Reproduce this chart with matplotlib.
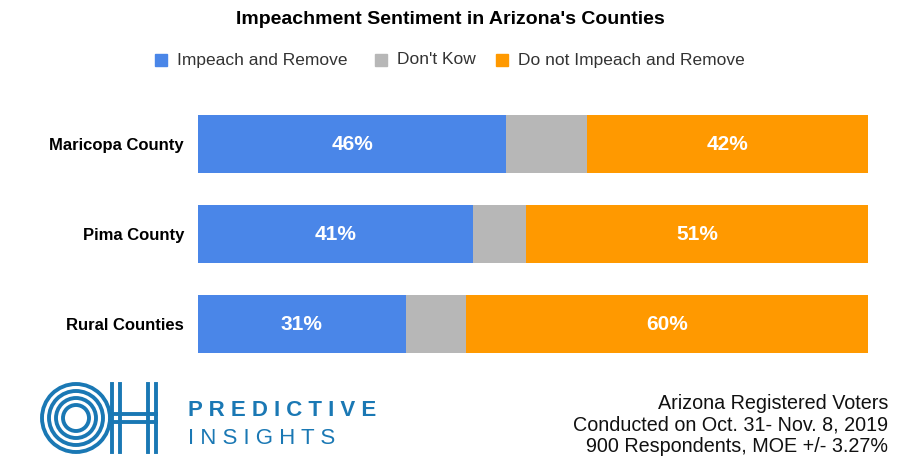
import matplotlib
matplotlib.use("Agg")
import matplotlib.pyplot as plt
from matplotlib.patches import Circle, Rectangle

plt.rcParams["font.family"] = ["Liberation Sans", "DejaVu Sans"]

counties = ["Maricopa County", "Pima County", "Rural Counties"]
impeach = [46, 41, 31]
dont_know = [12, 8, 9]
not_impeach = [42, 51, 60]

BLUE, GRAY, ORANGE = "#4a86e8", "#b7b7b7", "#ff9900"
LOGO = "#1a78b4"

fig = plt.figure(figsize=(9, 4.74), dpi=100)
ax = fig.add_axes([198 / 900, 1 - 369 / 474, 670 / 900, 270 / 474])

y = range(len(counties))
h = 58 / 90
ax.barh(y, impeach, height=h, color=BLUE)
ax.barh(y, dont_know, left=impeach, height=h, color=GRAY)
left2 = [a + b for a, b in zip(impeach, dont_know)]
ax.barh(y, not_impeach, left=left2, height=h, color=ORANGE)

for i in y:
    ax.text(impeach[i] / 2, i, f"{impeach[i]}%", ha="center", va="center",
            color="white", fontsize=15, fontweight="bold")
    ax.text(left2[i] + not_impeach[i] / 2, i, f"{not_impeach[i]}%", ha="center",
            va="center", color="white", fontsize=15, fontweight="bold")

ax.set_xlim(0, 100)
ax.set_ylim(2.5, -0.5)
ax.set_yticks(list(y))
ax.set_yticklabels(counties, fontsize=12, fontweight="bold")
ax.tick_params(length=0, pad=10)
ax.set_xticks([])
for s in ax.spines.values():
    s.set_visible(False)

fig.text(0.5, 1 - 20 / 474, "Impeachment Sentiment in Arizona's Counties",
         ha="center", va="center", fontsize=14, fontweight="bold")

# legend
items = [("Impeach and Remove", BLUE, 155), ("Don't Kow", GRAY, 375),
         ("Do not Impeach and Remove", ORANGE, 496)]
for lab, c, x in items:
    fig.patches.append(Rectangle((x / 900, 1 - 66 / 474), 12 / 900, 12 / 474,
                                 color=c, transform=fig.transFigure))
    fig.text((x + 22) / 900, 1 - 60 / 474, lab, va="center", fontsize=12.5,
             color="#333333")

# logo
lax = fig.add_axes([40 / 900, 1 - 454 / 474, 122 / 900, 72 / 474])
lax.set_xlim(0, 122)
lax.set_ylim(0, 72)
lax.set_aspect("equal")
lax.axis("off")
for r in (34, 27, 20, 13):
    lax.add_patch(Circle((36, 36), r, fill=False, lw=2.8, color=LOGO))
for x in (72, 80, 108, 116):
    lax.plot([x, x], [2, 70], color=LOGO, lw=2.8)
for yy in (32, 40):
    lax.plot([72, 116], [yy, yy], color=LOGO, lw=2.8)
fig.text(188 / 900, 1 - 410 / 474, "P R E D I C T I V E", fontsize=16, color=LOGO,
         fontweight="bold", va="center")
fig.text(188 / 900, 1 - 438 / 474, "I N S I G H T S", fontsize=16, color=LOGO,
         va="center")

fig.text(888 / 900, 1 - 425 / 474,
         "Arizona Registered Voters\nConducted on Oct. 31- Nov. 8, 2019\n900 Respondents, MOE +/- 3.27%",
         ha="right", va="center", fontsize=14.2, linespacing=1.15, color="#111111")

fig.savefig("out.png", dpi=100, facecolor="white")
